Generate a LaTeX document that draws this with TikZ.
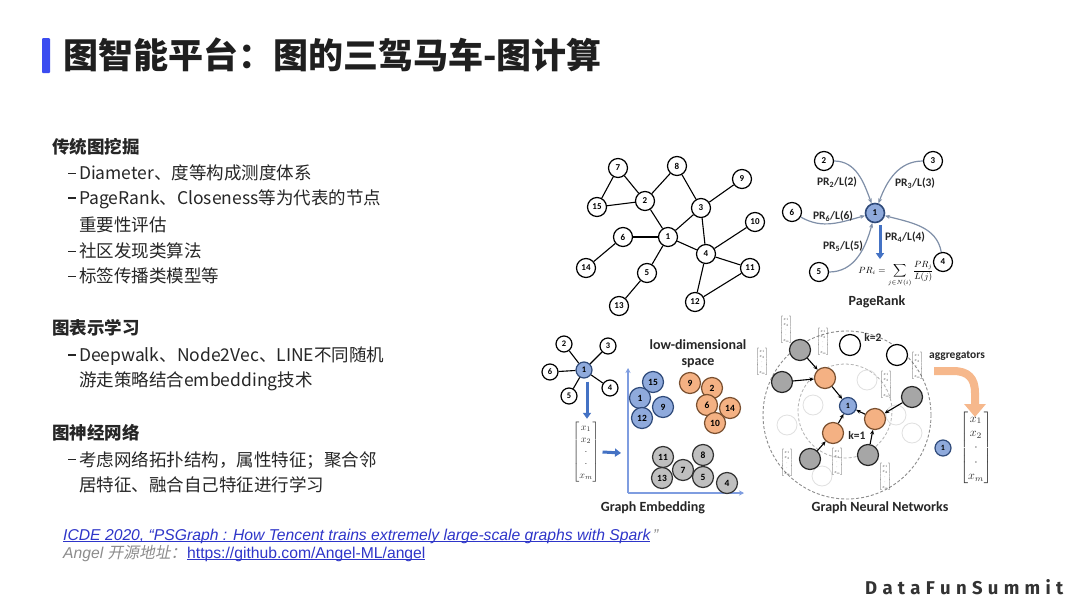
\documentclass[tikz,border=0pt]{standalone}
\usepackage{amsmath}
\usepackage{fontspec}
\setmainfont{Noto Sans CJK SC}[AutoFakeSlant=0.2]
\newfontfamily\carl{Carlito}
\newfontfamily\arialf{Liberation Sans}
\newfontfamily\logofont{Fira Sans}
\usetikzlibrary{arrows.meta}
\definecolor{txt}{HTML}{262626}
\definecolor{barblue}{HTML}{3B4CF0}
\definecolor{linkblue}{HTML}{2E35C9}
\definecolor{greytxt}{HTML}{8C8C8C}
\definecolor{nblue}{HTML}{8FAADC}
\definecolor{nblueD}{HTML}{2F4A7A}
\definecolor{norange}{HTML}{F4B183}
\definecolor{norangeD}{HTML}{7A5030}
\definecolor{ngrey}{HTML}{BFBFBF}
\definecolor{ngreyG}{HTML}{A6A6A6}
\definecolor{prline}{HTML}{7F8FA8}
\definecolor{arrblue}{HTML}{4472C4}
\definecolor{axisblue}{HTML}{7F9DE0}
\definecolor{oarr}{HTML}{F6B88C}
\newcommand\dashitem{\rule[0.32em]{0.45em}{0.075em}\hspace{0.17em}}
\newcommand\xvec{$\begin{bmatrix}x_1\\x_2\\\cdot\\\cdot\\x_m\end{bmatrix}$}
\newcommand\prformula{$PR_i=\displaystyle\sum_{j\in N(i)}\frac{PR_j}{L(j)}$}
\newcommand\lsp{\hspace{5.3pt}}
\newsavebox\ulbox
\newcommand\myul[1]{\sbox\ulbox{#1}\rlap{\rule[-1.7pt]{\wd\ulbox}{0.8pt}}\usebox\ulbox}
\begin{document}
\begin{tikzpicture}[x=1pt,y=1pt,
  hd/.style={anchor=west,inner sep=0pt,text=txt,font=\fontsize{17.5}{20}\selectfont\bfseries},
  bd/.style={anchor=west,inner sep=0pt,text=txt,font=\fontsize{17.5}{20}\selectfont},
  gn/.style={circle,draw=black,line width=1.2pt,fill=white,minimum size=19pt,inner sep=0pt,font=\carl\bfseries\fontsize{9}{9}\selectfont},
  sn/.style={gn,minimum size=16pt,font=\carl\bfseries\fontsize{8.5}{9}\selectfont},
  en/.style={gn,minimum size=21pt,font=\carl\bfseries\fontsize{9.5}{10}\selectfont},
  bluen/.style={fill=nblue,draw=nblueD},
  orn/.style={fill=norange,draw=norangeD},
  grn/.style={fill=ngrey,draw=black!80},
  ggn/.style={circle,draw=black!85,line width=1.2pt,fill=ngreyG,minimum size=21pt,inner sep=0pt},
  ghost/.style={draw=black!12,line width=0.8pt},
  gedge/.style={line width=1.1pt,black},
  tip/.style={-{Stealth[length=4.5pt,width=4pt]}},
  prc/.style={line width=1.2pt,draw=prline,-{Stealth[length=5pt,width=4pt]}},
  lab/.style={inner sep=0pt,text=black!85,font=\carl\bfseries\fontsize{14}{16}\selectfont},
  prl/.style={inner sep=0pt,text=black!85,font=\carl\bfseries\fontsize{11.5}{12}\selectfont},
  barrow/.style={line width=3pt,draw=arrblue,-{Triangle[width=8pt,length=6pt]}},
  axis/.style={line width=1.6pt,draw=axisblue,-{Stealth[length=5pt,width=5pt]}},
  vec/.style={inner sep=0pt,text=black!80,font=\fontsize{10}{12}\selectfont},
  svec/.style={vec,scale=0.45}
]
\useasboundingbox (0,0) rectangle (1080,-608);
\fill[white] (0,0) rectangle (1080,-608);

% ---------- title ----------
\fill[barblue,rounded corners=1pt] (42,-38) rectangle (50,-73);
\node[anchor=west,inner sep=0pt,text=black!88,font=\fontsize{35}{40}\selectfont\bfseries] (title) at (63,-55) {图智能平台：图的三驾马车-图计算};

% ---------- left text ----------
\node[hd] (h1) at (52,-147) {传统图挖掘};
\node[bd] (l1) at (68,-173) {\dashitem Diameter、度等构成测度体系};
\node[bd] (l2) at (68,-199) {\dashitem PageRank、Closeness等为代表的节点};
\node[bd] (l3) at (79,-225) {重要性评估};
\node[bd] (l4) at (68,-251) {\dashitem 社区发现类算法};
\node[bd] (l5) at (68,-276) {\dashitem 标签传播类模型等};
\node[hd] (h2) at (52,-328) {图表示学习};
\node[bd] (l6) at (68,-356) {\dashitem Deepwalk、Node2Vec、LINE不同随机};
\node[bd] (l7) at (79,-381) {游走策略结合embedding技术};
\node[hd] (h3) at (52,-433) {图神经网络};
\node[bd] (l8) at (68,-460) {\dashitem 考虑网络拓扑结构，属性特征；聚合邻};
\node[bd] (l9) at (79,-485) {居特征、融合自己特征进行学习};

% ---------- references ----------
\node[anchor=west,inner sep=0pt,text=linkblue,font=\arialf\itshape\fontsize{15.7}{18}\selectfont] (ref1) at (63,-536) {\myul{ICDE 2020, “PSGraph : How Tencent trains extremely large-scale graphs with Spark}\textcolor{greytxt}{\,”}};
\node[anchor=west,inner sep=0pt,text=greytxt,font=\arialf\itshape\fontsize{15.7}{18}\selectfont] (ref2) at (63,-554) {Angel {\rmfamily\itshape 开源地址：}};
\node[anchor=west,inner sep=0pt,text=linkblue,font=\arialf\fontsize{15.7}{18}\selectfont] (link) at (187,-554) {\myul{https://github.com/Angel-ML/angel}};

% ---------- logo ----------
\node[anchor=west,inner sep=0pt,text=black!80,font=\logofont\bfseries\fontsize{18.5}{20}\selectfont] (logo) at (865,-587) {D\lsp a\lsp t\lsp a\lsp F\lsp u\lsp n\lsp S\lsp u\lsp m\lsp m\lsp i\lsp t};

% ---------- top-left graph ----------
\node[gn] (g7) at (618,-168) {7};
\node[gn] (g8) at (677,-166) {8};
\node[gn] (g9) at (742,-179) {9};
\node[gn] (g15) at (597,-207) {15};
\node[gn] (g2) at (645,-201) {2};
\node[gn] (g3) at (701,-208) {3};
\node[gn] (g10) at (755,-222) {10};
\node[gn] (g6) at (623,-237) {6};
\node[gn] (g1) at (668,-237) {1};
\node[gn] (g4) at (706,-254) {4};
\node[gn] (g11) at (750,-268) {11};
\node[gn] (g14) at (586,-268) {14};
\node[gn] (g5) at (647,-273) {5};
\node[gn] (g12) at (695,-302) {12};
\node[gn] (g13) at (619,-306) {13};
\foreach \a/\b in {7/2,7/15,15/2,2/8,8/3,2/1,3/9,3/1,3/4,1/6,6/14,1/4,1/5,5/13,4/10,4/11,4/12,12/11}
  \draw[gedge] (g\a) -- (g\b);

% ---------- PageRank ----------
\node[gn] (p2) at (824,-161) {2};
\node[gn] (p3) at (933,-161) {3};
\node[gn] (p6) at (792,-212) {6};
\node[gn,bluen,line width=1.6pt] (p1) at (875,-213) {1};
\node[gn] (p4) at (943,-262) {4};
\node[gn] (p5) at (819,-272) {5};
\draw[prc] (p2) to[out=0,in=110] (p1);
\draw[prc] (p3) to[out=180,in=70] (p1);
\draw[prc] (p6) to[out=-30,in=195] (p1);
\draw[prc] (p5) to[out=0,in=255] (p1);
\draw[prc] (p4) to[out=100,in=-15] (p1);
\node[prl] (pl2) at (837,-182) {PR\textsubscript{2}/L(2)};
\node[prl] (pl3) at (915,-183) {PR\textsubscript{3}/L(3)};
\node[prl] (pl6) at (833,-216) {PR\textsubscript{6}/L(6)};
\node[prl] (pl5) at (843,-246) {PR\textsubscript{5}/L(5)};
\node[prl] (pl4) at (905,-237) {PR\textsubscript{4}/L(4)};
\node[inner sep=0pt,text=black,font=\fontsize{9}{10}\selectfont] (formula) at (896,-274) {\prformula};
\draw[barrow] ([xshift=5pt,yshift=-2pt]p1.south) -- ([xshift=-16pt,yshift=2pt]formula.north);
\node[lab] (prt) at (877,-302) {PageRank};

% ---------- Graph Embedding ----------
\node[sn,bluen] (e1) at (584,-370) {1};
\node[sn] (e2) at (564,-344) {2};
\node[sn] (e3) at (608,-346) {3};
\node[sn] (e6) at (550,-372) {6};
\node[sn] (e5) at (569,-396) {5};
\node[sn] (e4) at (610,-388) {4};
\foreach \b in {2,3,6,5,4} \draw[gedge] (e1) -- (e\b);
\node[vec] (ev) at (586,-452) {\xvec};
\draw[barrow] ([xshift=3pt,yshift=-3pt]e1.south) -- ([xshift=1pt,yshift=3pt]ev.north);
\coordinate (evT) at (621,-453);
\draw[barrow] ([xshift=3pt]ev.east) -- (evT);
\coordinate (O) at (628,-493);
\coordinate (Ytop) at (628,-368);
\coordinate (Xend) at (744,-493);
\draw[axis] (O) -- (Ytop);
\draw[axis] (O) -- (Xend);
\node[lab] (ld1) at (698,-345) {low-dimensional};
\node[lab] (ld2) at (698,-363) {space};
\node[en,bluen] (c15) at (653,-382) {15};
\node[en,bluen] (c1) at (640,-398) {1};
\node[en,bluen] (c9) at (663,-407) {9};
\node[en,bluen] (c12) at (642,-418) {12};
\node[en,orn] (o9) at (690,-383) {9};
\node[en,orn] (o2) at (712,-388) {2};
\node[en,orn] (o6) at (707,-405) {6};
\node[en,orn] (o14) at (730,-408) {14};
\node[en,orn] (o10) at (715,-423) {10};
\node[en,grn] (q11) at (663,-457) {11};
\node[en,grn] (q8) at (703,-455) {8};
\node[en,grn] (q7) at (683,-470) {7};
\node[en,grn] (q13) at (662,-478) {13};
\node[en,grn] (q5) at (703,-477) {5};
\node[en,grn] (q4) at (727,-483) {4};
\node[lab] (get) at (653,-508) {Graph Embedding};

% ---------- Graph Neural Networks ----------
\coordinate (gc) at (847,-415);
\coordinate (gi) at (845,-411);
\draw[black!45,line width=0.9pt,dash pattern=on 3pt off 2pt] (gc) circle (84pt);
\draw[black!30,line width=0.8pt,dash pattern=on 3pt off 2pt] (gi) circle (47pt);
\foreach \gx/\gy in {867/380,813/405,787/425,912/433,896/415,822/476}
  \draw[ghost] (\gx,-\gy) circle (10pt);
\node[ggn,fill=nblue,draw=nblueD,minimum size=17pt,font=\carl\bfseries\fontsize{8}{8}\selectfont] (n1) at (848,-406) {1};
\node[ggn,fill=norange,draw=norangeD] (nA) at (825,-378) {};
\node[ggn,fill=norange,draw=norangeD] (nB) at (875,-419) {};
\node[ggn,fill=norange,draw=norangeD] (nC) at (833,-433) {};
\node[ggn] (m1) at (800,-350) {};
\node[ggn] (m2) at (782,-382) {};
\node[ggn] (m3) at (912,-397) {};
\node[ggn] (m4) at (810,-459) {};
\node[ggn] (m5) at (868,-455) {};
\node[ggn,fill=white,draw=black] (w1) at (850,-345) {};
\node[ggn,fill=white,draw=black] (w2) at (897,-355) {};
\draw[gedge,tip] (m1) -- (nA);
\draw[gedge,tip] (m2) -- (nA);
\draw[gedge,tip] (nA) -- (n1);
\draw[gedge,tip] (nB) -- (n1);
\draw[gedge,tip] (nC) -- (n1);
\draw[gedge,tip] (m3) -- (nB);
\draw[gedge,tip] (m5) -- (nB);
\draw[gedge,tip] (m4) -- (nC);
\node[prl] (k2) at (873,-337) {k=2};
\node[prl] (k1) at (857,-435) {k=1};
\node[svec] (s1) at (786,-330) {\xvec};
\node[svec] (s2) at (823,-342) {\xvec};
\node[svec] (s3) at (762,-362) {\xvec};
\node[svec] (s4) at (917,-366) {\xvec};
\node[svec] (s5) at (886,-385) {\xvec};
\node[svec] (s6) at (787,-463) {\xvec};
\node[svec] (s7) at (837,-462) {\xvec};
\node[svec] (s8) at (885,-477) {\xvec};
\node[prl] (agg) at (957,-356) {aggregators};
\coordinate (oaS) at (934,-371);
\coordinate (oaT) at (975,-417);
\draw[line width=8pt,draw=oarr,-{Triangle[width=21pt,length=13pt]}] (oaS) -- (953,-371) .. controls (968,-371) and (975,-378) .. (975,-393) -- (oaT);
\node[vec,scale=1.2] (bv) at (976,-448) {\xvec};
\node[ggn,fill=nblue,draw=nblueD,minimum size=16pt,font=\carl\bfseries\fontsize{8}{8}\selectfont] (bn) at (943,-448) {1};
\node[lab] (gnt) at (880,-508) {Graph Neural Networks};
\end{tikzpicture}
\end{document}
